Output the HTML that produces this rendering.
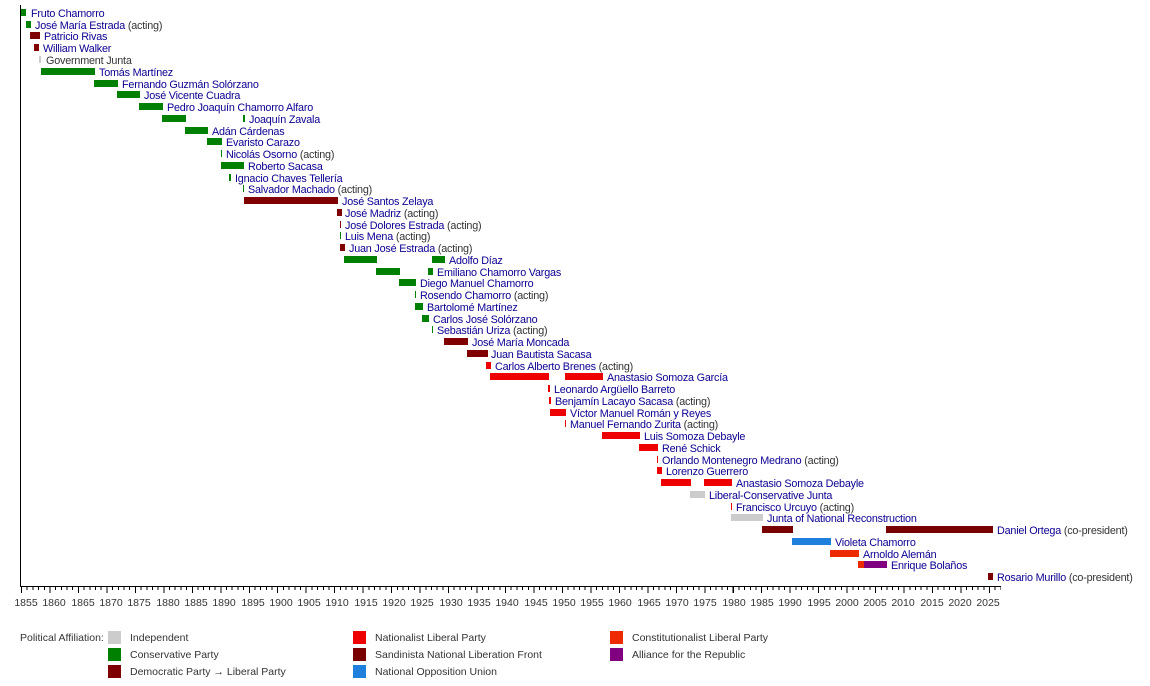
<!DOCTYPE html>
<html><head><meta charset="utf-8"><style>
body{margin:0;width:1150px;height:686px;background:#fff;position:relative;overflow:hidden;font-family:"Liberation Sans",Arial,sans-serif}
.b{position:absolute;height:7px}
.t{position:absolute;font-size:10.8px;line-height:14px;color:#0b0090;white-space:nowrap;letter-spacing:-0.2px;margin-top:1px}
.t span{color:#333}
.C{background:#008000}.D{background:#800000}.S{background:#780000}.N{background:#ee0000}.L{background:#ee2a00}.A{background:#800080}.U{background:#1e7fdd}.I{background:#cccccc}
.yl{position:absolute;top:597px;font-size:10.5px;color:#333;width:40px;margin-left:-20px;text-align:center}
.lg{position:absolute;font-size:10.5px;color:#333;white-space:nowrap}
.sw{position:absolute;width:13px;height:13px}
</style></head><body>
<div style="position:absolute;left:20px;top:5px;width:1px;height:581px;background:#000"></div>
<div style="position:absolute;left:20px;top:586px;width:981px;height:1px;background:#000"></div>
<div style="position:absolute;left:21px;top:587px;width:980px;height:3px;background:repeating-linear-gradient(90deg,#000 0,#000 1px,transparent 1px,transparent 5.694px)"></div>
<div style="position:absolute;left:21px;top:587px;width:980px;height:6px;background:repeating-linear-gradient(90deg,#000 0,#000 1px,transparent 1px,transparent 28.47px)"></div>

<div class="b C" style="left:21px;top:9px;width:5px"></div><div class="t" style="left:31px;top:6px">Fruto Chamorro</div>
<div class="b C" style="left:26px;top:21px;width:5px"></div><div class="t" style="left:35px;top:18px">José María Estrada <span>(acting)</span></div>
<div class="b D" style="left:30px;top:32px;width:10px"></div><div class="t" style="left:44px;top:29px">Patricio Rivas</div>
<div class="b D" style="left:34px;top:44px;width:5px"></div><div class="t" style="left:43px;top:41px">William Walker</div>
<div class="b I" style="left:39px;top:56px;width:2px"></div><div class="t" style="left:46px;top:53px"><span>Government Junta</span></div>
<div class="b C" style="left:41px;top:68px;width:54px"></div><div class="t" style="left:99px;top:65px">Tomás Martínez</div>
<div class="b C" style="left:94px;top:80px;width:24px"></div><div class="t" style="left:122px;top:77px">Fernando Guzmán Solórzano</div>
<div class="b C" style="left:117px;top:91px;width:23px"></div><div class="t" style="left:144px;top:88px">José Vicente Cuadra</div>
<div class="b C" style="left:139px;top:103px;width:24px"></div><div class="t" style="left:167px;top:100px">Pedro Joaquín Chamorro Alfaro</div>
<div class="b C" style="left:162px;top:115px;width:24px"></div><div class="b C" style="left:243px;top:115px;width:2px"></div><div class="t" style="left:249px;top:112px">Joaquín Zavala</div>
<div class="b C" style="left:185px;top:127px;width:23px"></div><div class="t" style="left:212px;top:124px">Adán Cárdenas</div>
<div class="b C" style="left:207px;top:138px;width:15px"></div><div class="t" style="left:226px;top:135px">Evaristo Carazo</div>
<div class="b C" style="left:221px;top:150px;width:1px"></div><div class="t" style="left:226px;top:147px">Nicolás Osorno <span>(acting)</span></div>
<div class="b C" style="left:221px;top:162px;width:23px"></div><div class="t" style="left:248px;top:159px">Roberto Sacasa</div>
<div class="b C" style="left:229px;top:174px;width:2px"></div><div class="t" style="left:235px;top:171px">Ignacio Chaves Tellería</div>
<div class="b C" style="left:243px;top:185px;width:1px"></div><div class="t" style="left:248px;top:182px">Salvador Machado <span>(acting)</span></div>
<div class="b D" style="left:244px;top:197px;width:94px"></div><div class="t" style="left:342px;top:194px">José Santos Zelaya</div>
<div class="b D" style="left:337px;top:209px;width:5px"></div><div class="t" style="left:345px;top:206px">José Madriz <span>(acting)</span></div>
<div class="b D" style="left:340px;top:221px;width:1px"></div><div class="t" style="left:345px;top:218px">José Dolores Estrada <span>(acting)</span></div>
<div class="b C" style="left:340px;top:232px;width:1px"></div><div class="t" style="left:345px;top:229px">Luis Mena <span>(acting)</span></div>
<div class="b D" style="left:340px;top:244px;width:5px"></div><div class="t" style="left:349px;top:241px">Juan José Estrada <span>(acting)</span></div>
<div class="b C" style="left:344px;top:256px;width:33px"></div><div class="b C" style="left:432px;top:256px;width:13px"></div><div class="t" style="left:449px;top:253px">Adolfo Díaz</div>
<div class="b C" style="left:376px;top:268px;width:24px"></div><div class="b C" style="left:428px;top:268px;width:5px"></div><div class="t" style="left:437px;top:265px">Emiliano Chamorro Vargas</div>
<div class="b C" style="left:399px;top:279px;width:17px"></div><div class="t" style="left:420px;top:276px">Diego Manuel Chamorro</div>
<div class="b C" style="left:415px;top:291px;width:1px"></div><div class="t" style="left:420px;top:288px">Rosendo Chamorro <span>(acting)</span></div>
<div class="b C" style="left:415px;top:303px;width:8px"></div><div class="t" style="left:427px;top:300px">Bartolomé Martínez</div>
<div class="b C" style="left:422px;top:315px;width:7px"></div><div class="t" style="left:433px;top:312px">Carlos José Solórzano</div>
<div class="b C" style="left:432px;top:326px;width:1px"></div><div class="t" style="left:437px;top:323px">Sebastián Uriza <span>(acting)</span></div>
<div class="b D" style="left:444px;top:338px;width:24px"></div><div class="t" style="left:472px;top:335px">José María Moncada</div>
<div class="b D" style="left:467px;top:350px;width:21px"></div><div class="t" style="left:491px;top:347px">Juan Bautista Sacasa</div>
<div class="b N" style="left:486px;top:362px;width:5px"></div><div class="t" style="left:495px;top:359px">Carlos Alberto Brenes <span>(acting)</span></div>
<div class="b N" style="left:490px;top:373px;width:59px"></div><div class="b N" style="left:565px;top:373px;width:38px"></div><div class="t" style="left:607px;top:370px">Anastasio Somoza García</div>
<div class="b N" style="left:548px;top:385px;width:2px"></div><div class="t" style="left:554px;top:382px">Leonardo Argüello Barreto</div>
<div class="b N" style="left:549px;top:397px;width:2px"></div><div class="t" style="left:555px;top:394px">Benjamín Lacayo Sacasa <span>(acting)</span></div>
<div class="b N" style="left:550px;top:409px;width:16px"></div><div class="t" style="left:570px;top:406px">Víctor Manuel Román y Reyes</div>
<div class="b N" style="left:565px;top:420px;width:1px"></div><div class="t" style="left:570px;top:417px">Manuel Fernando Zurita <span>(acting)</span></div>
<div class="b N" style="left:602px;top:432px;width:38px"></div><div class="t" style="left:644px;top:429px">Luis Somoza Debayle</div>
<div class="b N" style="left:639px;top:444px;width:19px"></div><div class="t" style="left:662px;top:441px">René Schick</div>
<div class="b N" style="left:657px;top:456px;width:1px"></div><div class="t" style="left:662px;top:453px">Orlando Montenegro Medrano <span>(acting)</span></div>
<div class="b N" style="left:657px;top:467px;width:5px"></div><div class="t" style="left:666px;top:464px">Lorenzo Guerrero</div>
<div class="b N" style="left:661px;top:479px;width:30px"></div><div class="b N" style="left:704px;top:479px;width:28px"></div><div class="t" style="left:736px;top:476px">Anastasio Somoza Debayle</div>
<div class="b I" style="left:690px;top:491px;width:15px"></div><div class="t" style="left:709px;top:488px">Liberal-Conservative Junta</div>
<div class="b N" style="left:731px;top:503px;width:1px"></div><div class="t" style="left:736px;top:500px">Francisco Urcuyo <span>(acting)</span></div>
<div class="b I" style="left:731px;top:514px;width:32px"></div><div class="t" style="left:767px;top:511px">Junta of National Reconstruction</div>
<div class="b S" style="left:762px;top:526px;width:31px"></div><div class="b S" style="left:886px;top:526px;width:107px"></div><div class="t" style="left:997px;top:523px">Daniel Ortega <span>(co-president)</span></div>
<div class="b U" style="left:792px;top:538px;width:39px"></div><div class="t" style="left:835px;top:535px">Violeta Chamorro</div>
<div class="b L" style="left:830px;top:550px;width:29px"></div><div class="t" style="left:863px;top:547px">Arnoldo Alemán</div>
<div class="b L" style="left:858px;top:561px;width:6px"></div><div class="b A" style="left:864px;top:561px;width:23px"></div><div class="t" style="left:891px;top:558px">Enrique Bolaños</div>
<div class="b S" style="left:988px;top:573px;width:5px"></div><div class="t" style="left:997px;top:570px">Rosario Murillo <span>(co-president)</span></div>

<div class="yl" style="left:26px">1855</div><div class="yl" style="left:54px">1860</div><div class="yl" style="left:83px">1865</div><div class="yl" style="left:111px">1870</div><div class="yl" style="left:139px">1875</div><div class="yl" style="left:168px">1880</div><div class="yl" style="left:196px">1885</div><div class="yl" style="left:224px">1890</div><div class="yl" style="left:253px">1895</div><div class="yl" style="left:281px">1900</div><div class="yl" style="left:309px">1905</div><div class="yl" style="left:337px">1910</div><div class="yl" style="left:366px">1915</div><div class="yl" style="left:394px">1920</div><div class="yl" style="left:422px">1925</div><div class="yl" style="left:451px">1930</div><div class="yl" style="left:479px">1935</div><div class="yl" style="left:507px">1940</div><div class="yl" style="left:536px">1945</div><div class="yl" style="left:564px">1950</div><div class="yl" style="left:592px">1955</div><div class="yl" style="left:620px">1960</div><div class="yl" style="left:649px">1965</div><div class="yl" style="left:677px">1970</div><div class="yl" style="left:705px">1975</div><div class="yl" style="left:734px">1980</div><div class="yl" style="left:762px">1985</div><div class="yl" style="left:790px">1990</div><div class="yl" style="left:819px">1995</div><div class="yl" style="left:847px">2000</div><div class="yl" style="left:875px">2005</div><div class="yl" style="left:903px">2010</div><div class="yl" style="left:932px">2015</div><div class="yl" style="left:960px">2020</div><div class="yl" style="left:988px">2025</div>

<div class="lg" style="left:20px;top:632px">Political Affiliation:</div>
<div class="sw I" style="left:108px;top:631px"></div><div class="lg" style="left:130px;top:632px">Independent</div>
<div class="sw C" style="left:108px;top:648px"></div><div class="lg" style="left:130px;top:649px">Conservative Party</div>
<div class="sw D" style="left:108px;top:665px"></div><div class="lg" style="left:130px;top:666px">Democratic Party → Liberal Party</div>
<div class="sw N" style="left:353px;top:631px"></div><div class="lg" style="left:375px;top:632px">Nationalist Liberal Party</div>
<div class="sw S" style="left:353px;top:648px"></div><div class="lg" style="left:375px;top:649px">Sandinista National Liberation Front</div>
<div class="sw U" style="left:353px;top:665px"></div><div class="lg" style="left:375px;top:666px">National Opposition Union</div>
<div class="sw L" style="left:610px;top:631px"></div><div class="lg" style="left:632px;top:632px">Constitutionalist Liberal Party</div>
<div class="sw A" style="left:610px;top:648px"></div><div class="lg" style="left:632px;top:649px">Alliance for the Republic</div>
</body></html>
